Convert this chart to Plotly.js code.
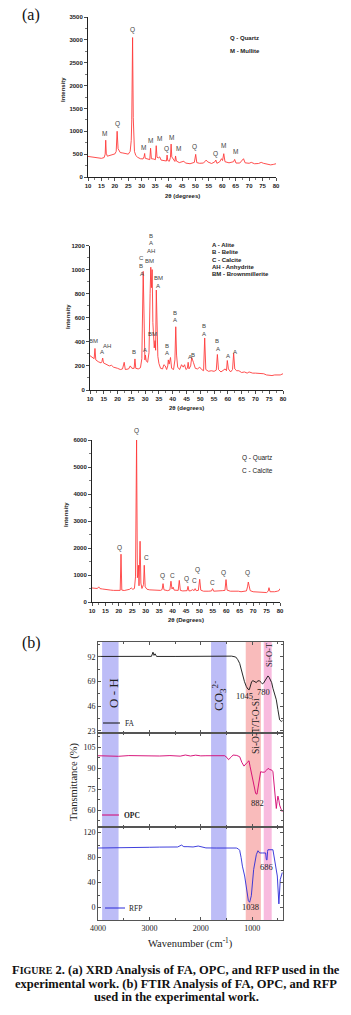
<!DOCTYPE html>
<html><head><meta charset="utf-8">
<script src="https://cdn.plot.ly/plotly-3.0.1.min.js"></script>
<style>html,body{margin:0;padding:0;background:#fff;}#chart{width:351px;height:1015px;}</style>
</head><body><div id="chart"></div>
<script>
// ---------- DATA ----------
// XRD of FA: [2theta, intensity]
const xrdFA = [[10,450],[11,440],[12,425],[13,415],[14,405],[15,408],[16,425],[16.4,500],[16.6,805],[16.8,520],[17.2,455],[18,470],[19,490],[20,505],[20.5,560],[20.85,1000],[21.2,620],[22,535],[23,525],[24,515],[25,500],[25.7,560],[26.1,800],[26.3,1250],[26.6,3050],[26.85,1300],[27.0,900],[27.3,560],[27.8,470],[28.5,430],[29.5,400],[30.5,395],[30.9,450],[31.1,515],[31.3,410],[32,395],[33.0,380],[33.3,630],[33.6,400],[34.3,395],[35.1,380],[35.4,685],[35.7,430],[36.3,420],[36.7,440],[37.2,370],[38.2,355],[39.2,350],[39.45,480],[39.7,360],[40.3,345],[40.7,430],[40.95,720],[41.2,440],[42.0,370],[42.35,340],[42.6,460],[42.9,350],[44,315],[45.7,345],[46.3,305],[48,290],[49.6,320],[50.1,495],[50.5,315],[51.5,300],[53,305],[54,370],[54.6,330],[56,295],[57.2,330],[57.6,370],[58,300],[59,330],[59.7,400],[60.1,360],[60.55,510],[61,335],[62.5,310],[64.2,335],[64.6,385],[65.1,305],[66.5,305],[67.9,400],[68.5,310],[70,300],[70.8,320],[72,290],[73.5,295],[74.5,320],[75.3,300],[76.5,290],[78,265],[79,275],[80,290]];
// XRD of OPC
const xrdOPC = [[10,285],[10.8,275],[11.5,260],[11.8,345],[12.1,250],[13,235],[14,225],[14.3,235],[14.6,265],[14.9,225],[16,210],[17,200],[17.8,205],[18.5,190],[20,180],[21,170],[21.8,175],[22.4,230],[22.8,170],[24,175],[24.6,200],[25.2,180],[26,180],[26.3,258],[26.6,180],[27.5,175],[28.3,185],[28.8,260],[29.3,985],[29.6,420],[29.9,250],[30.1,290],[30.4,240],[30.9,230],[31.4,310],[31.8,800],[32.05,1020],[32.3,850],[32.55,1000],[32.8,560],[33.0,420],[33.3,350],[33.6,410],[33.8,330],[34.05,830],[34.3,560],[34.6,280],[35,220],[35.6,180],[36.3,175],[36.8,210],[37.3,200],[37.8,170],[38.2,200],[38.4,250],[38.7,215],[39.2,270],[39.6,180],[40.3,170],[40.8,250],[41.1,525],[41.4,290],[41.8,190],[42.5,170],[43.2,210],[43.8,190],[44.3,210],[44.8,170],[45.3,180],[45.6,230],[45.9,175],[46.5,200],[46.9,270],[47.5,230],[48.2,180],[49,175],[49.8,190],[50.5,170],[51.2,160],[51.6,432],[52,170],[53,155],[54,160],[55,155],[55.8,165],[56.2,295],[56.6,170],[57.5,150],[58.5,165],[59,175],[59.5,160],[59.8,245],[60.2,175],[61,150],[61.7,170],[62.1,305],[62.5,175],[63.2,160],[64,160],[65,145],[66,150],[67,140],[67.7,150],[68.2,145],[69,140],[70,140],[71,138],[72,140],[73,135],[74,125],[75,120],[76,120],[77,125],[78,122],[79,125],[80,135]];
// XRD of RFP
const xrdRFP = [[10,520],[11,510],[12,500],[12.5,560],[13,495],[14,480],[15,460],[16,445],[17,440],[18,430],[19,425],[20,420],[20.5,430],[20.8,1770],[21.1,440],[22,425],[23,440],[24,470],[24.6,520],[25.2,470],[25.8,500],[26.2,930],[26.6,6030],[26.9,900],[27.1,1000],[27.3,1360],[27.5,600],[27.7,1400],[27.9,2250],[28.2,700],[28.6,500],[29.2,650],[29.45,1360],[29.8,560],[30.5,470],[31.5,450],[32.5,440],[33.5,430],[34.5,420],[35.5,430],[36.1,460],[36.45,680],[36.8,450],[37.5,430],[38.2,420],[39.0,450],[39.4,770],[39.8,480],[40.2,550],[40.6,440],[41.5,420],[42.1,430],[42.5,800],[42.9,430],[43.8,410],[45,400],[45.4,420],[45.75,580],[46.1,410],[46.8,420],[47.5,460],[48.0,420],[48.4,495],[48.8,420],[49.6,430],[50.1,840],[50.5,440],[51.5,400],[52.5,390],[53.5,400],[54.5,410],[54.9,495],[55.3,400],[56.5,400],[57.5,410],[58.5,420],[59.5,430],[59.9,830],[60.3,440],[61.5,400],[62.5,400],[63.5,410],[64,420],[64.5,400],[65.5,380],[66.5,390],[67.5,410],[67.9,560],[68.2,740],[68.5,600],[68.9,420],[70,380],[71,370],[72,360],[73,370],[74,350],[75,350],[75.6,400],[75.9,530],[76.3,380],[77,370],[78,380],[79,400],[79.6,420],[80,495]];

// XRD peak labels
const lab1Text = ['Q','M','Q','M','M','M','Q','M','M','Q','Q','M','M'];
const lab1X = [26.6,16.3,21.1,30.6,33.3,36.5,39.1,41.1,43.6,49.8,57.5,60.5,65.0];
const lab1Y = [3210,953,1150,640,793,844,619,866,633,648,509,691,568];
const lab2Text = ['BM','AH','A','B','A','C','B','A','B','A','AH','BM','BM','A','BM','B','A','B','A','A','B','B','A','B','A','A','A'];
const lab2X = [11.2,16.0,14.2,25.9,30.0,28.5,28.5,28.8,32.1,32.1,32.1,31.6,34.7,34.5,32.6,38.1,38.1,41.0,41.0,46.1,47.2,51.5,51.5,56.2,56.3,60.1,62.5];
const lab2Y = [410,366,313,313,335,1098,1029,963,1278,1220,1152,1075,928,867,465,368,307,643,584,271,294,535,465,410,341,285,313];
const lab3Text = ['Q','Q','C','Q','C','Q','C','Q','C','Q','Q'];
const lab3X = [26.5,20.3,30.2,36.3,39.9,45.1,48.3,49.4,54.9,59.1,68.0];
const lab3Y = [6340,2000,1630,980,980,840,780,1180,720,1090,1090];

const key1 = ['Q - Quartz','M - Mullite'];
const key2 = ['A - Alite','B - Belite','C - Calcite','AH - Anhydrite','BM - Brownmillerite'];
const key3 = ['Q - Quartz','C - Calcite'];

// FTIR: [wavenumber, transmittance %]
const ftirFA = [[4000,92.5],[3500,92.5],[3000,92.5],[2960,92.6],[2930,96.5],[2910,93.5],[2890,95],[2860,92.5],[2500,92.5],[2000,92.5],[1600,92.6],[1500,93.2],[1400,92.8],[1320,92],[1280,89.5],[1243,86],[1210,80],[1190,75.2],[1150,69],[1113,64.3],[1081,61.9],[1055,61.5],[1036,65.9],[1010,69],[985,69.9],[950,68.5],[919,68.1],[890,69.8],[854,69.6],[820,68],[800,66.9],[780,67.5],[757,69],[720,72],[693,74.3],[670,73],[641,70.6],[620,68],[596,62.8],[560,57],[530,52],[500,43],[466,33.3],[433,31.8],[410,32.5]];
const ftirOPC = [[4000,98.8],[3800,98.6],[3600,98.4],[3400,98.9],[3200,98.7],[3000,98.8],[2800,98.6],[2600,98.9],[2400,98.5],[2300,99.3],[2200,98.6],[2100,99.2],[2000,98.7],[1900,98.8],[1700,98.8],[1534,98.8],[1490,97.5],[1460,96.0],[1410,97.8],[1372,99.3],[1300,99],[1243,98.1],[1200,94],[1159,91.4],[1110,93.5],[1062,95.2],[1040,91],[1016,86.2],[971,79],[932,71.9],[906,71.4],[868,79],[835,87.4],[790,87],[757,87.2],[720,88.5],[690,89.8],[660,89],[620,88.6],[596,87.4],[575,80],[563,72],[545,66],[530,61.2],[515,66],[499,70],[480,67],[466,63.6],[440,61],[414,58.8]];
const ftirRFP = [[4000,95.3],[3500,95.3],[3200,95.5],[3000,96.5],[2800,96.8],[2600,96.5],[2450,97],[2375,100],[2330,97.5],[2250,97.5],[2150,97],[2050,98.5],[1980,97.5],[1900,95.5],[1700,95.3],[1500,95.3],[1307,95.3],[1270,94],[1243,91.6],[1215,80],[1190,66.3],[1146,50.5],[1113,29.4],[1074,10.9],[1049,8.4],[1016,18.9],[971,61],[919,84.7],[887,91],[854,87.4],[800,87.4],[738,87.4],[725,76.9],[712,76],[700,90],[693,92.6],[596,92.6],[570,80],[544,61],[511,50.5],[480,5.8],[453,45],[414,56]];

// FTIR band regions (cm-1)
const bandLo = [3600, 1500, 830, 620];
const bandHi = [3920, 1800, 1125, 775];
const bandColor = ['rgba(170,170,245,0.78)','rgba(170,170,245,0.78)','rgba(248,170,170,0.8)','rgba(246,170,215,0.8)'];

const peakText = ['1045','780','882','686','1038'];

// ---------- LAYOUT HELPERS ----------
const W = 351, H = 1015;
const px = v => v / W;
const py = v => 1 - v / H;
const SANS = 'Liberation Sans, Arial, sans-serif';
const SERIF = 'Liberation Serif, Times New Roman, serif';

const xs = a => a.map(p => p[0]);
const ys = a => a.map(p => p[1]);

const red = '#ff3b3b';
const traces = [
  {x: xs(xrdFA), y: ys(xrdFA), xaxis:'x', yaxis:'y', mode:'lines', line:{color:red, width:0.9}, name:'FA'},
  {x: xs(xrdOPC), y: ys(xrdOPC), xaxis:'x2', yaxis:'y2', mode:'lines', line:{color:red, width:0.9}, name:'OPC'},
  {x: xs(xrdRFP), y: ys(xrdRFP), xaxis:'x3', yaxis:'y3', mode:'lines', line:{color:red, width:0.9}, name:'RFP'},
  {x: xs(ftirFA), y: ys(ftirFA), xaxis:'x6', yaxis:'y6', mode:'lines', line:{color:'#111', width:0.9}, name:'FA'},
  {x: xs(ftirOPC), y: ys(ftirOPC), xaxis:'x5', yaxis:'y5', mode:'lines', line:{color:'#d4006e', width:0.9}, name:'OPC'},
  {x: xs(ftirRFP), y: ys(ftirRFP), xaxis:'x4', yaxis:'y4', mode:'lines', line:{color:'#2a2ad8', width:0.9}, name:'RFP'}
];

const xrdTickFont = {family:SANS, size:6, color:'#222', weight:'bold'};
function xrdX(domain, anchor){
  return {domain, anchor, range:[10,80], dtick:5, tick0:0, showline:true, linecolor:'#222', linewidth:1,
    ticks:'outside', ticklen:3, tickwidth:0.8, tickcolor:'#222', tickfont:xrdTickFont,
    showgrid:false, zeroline:false, minor:{dtick:2.5, ticks:'outside', ticklen:1.8, tickcolor:'#222', tickwidth:0.6}};
}
function xrdY(domain, anchor, range, dtick){
  return {domain, anchor, range, dtick, tick0:0, showline:true, linecolor:'#222', linewidth:1,
    ticks:'outside', ticklen:3, tickwidth:0.8, tickcolor:'#222', tickfont:xrdTickFont,
    showgrid:false, zeroline:false, minor:{dtick:dtick/2, ticks:'outside', ticklen:1.8, tickcolor:'#222', tickwidth:0.6}};
}
const ftX = [98, 283];
function ftirX(anchor, labels){
  return {domain:[px(ftX[0]), px(ftX[1])], anchor, range:[4000,400], dtick:1000, tick0:0,
    showline:true, mirror:'ticks', linecolor:'#555', linewidth:1, ticks:'inside', ticklen:3, tickcolor:'#555',
    showticklabels:labels, tickfont:{family:SERIF, size:8, color:'#222'}, showgrid:false, zeroline:false,
    minor:{dtick:500, ticks:'inside', ticklen:2, tickcolor:'#555'}};
}
function ftirY(domain, anchor, range, dtick){
  return {domain, anchor, range, dtick, tick0:0, showline:true, mirror:'ticks', linecolor:'#555', linewidth:1,
    ticks:'inside', ticklen:3, tickcolor:'#555', tickfont:{family:SERIF, size:8, color:'#222'},
    showgrid:false, zeroline:false, minor:{dtick:dtick/2, ticks:'inside', ticklen:2, tickcolor:'#555'}};
}

const annotations = [];
function ann(text, x, y, o){
  annotations.push(Object.assign({text, x:px(x), y:py(y), xref:'paper', yref:'paper', showarrow:false,
    xanchor:'center', yanchor:'middle', font:{family:SANS, size:6, color:'#222'}}, o||{}));
}
// data-anchored peak labels (raised beyond the top of the range with yshift)
function peakLabels(texts, X, Y, xr, yr, ymax, pxPerUnit, size){
  texts.forEach((t,i)=>{
    const over = Y[i] > ymax ? (Y[i]-ymax) : 0;
    annotations.push({text:t, x:X[i], y:Y[i]-over, xref:xr, yref:yr, yshift:over*pxPerUnit, showarrow:false,
      xanchor:'center', yanchor:'middle', font:{family:SANS, size:size, color:'#444'}});
  });
}

// Panel geometry (px)
const P1 = {x:[88,276], y:[17,177]};
const P2 = {x:[90,283], y:[245.5,390]};
const P3 = {x:[92,280], y:[440,602]};

peakLabels(lab1Text, lab1X, lab1Y, 'x', 'y', 3500, (P1.y[1]-P1.y[0])/3500, 6.5);
peakLabels(lab2Text, lab2X, lab2Y, 'x2', 'y2', 1200, (P2.y[1]-P2.y[0])/1200, 6);
peakLabels(lab3Text, lab3X, lab3Y, 'x3', 'y3', 6000, (P3.y[1]-P3.y[0])/6000, 6.5);

// Keys
key1.forEach((t,i)=>ann(t, 228, 38 + i*13, {xanchor:'left', font:{family:SANS, size:6, color:'#222', weight:'bold'}}));
key2.forEach((t,i)=>ann(t, 210, 245 + i*7.3, {xanchor:'left', font:{family:SANS, size:6, color:'#222', weight:'bold'}}));
key3.forEach((t,i)=>ann(t, 240, 458 + i*13, {xanchor:'left', font:{family:SANS, size:6.5, color:'#222'}}));

// XRD axis titles
const tF = {family:SANS, size:6, color:'#222', weight:'bold'};
ann('2θ (degrees)', 182, 196, {font:tF});
ann('Intensity', 63, 90, {textangle:-90, font:tF});
ann('2θ (degrees)', 187, 408, {font:tF});
ann('Intensity', 68, 317, {textangle:-90, font:tF});
ann('2θ (Degrees)', 186, 620, {font:tF});
ann('Intensity', 66, 515, {textangle:-90, font:tF});

// Panel letters
ann('(a)', 31, 15, {font:{family:SERIF, size:16, color:'#111'}});
ann('(b)', 31, 643, {font:{family:SERIF, size:16, color:'#111'}});

// FTIR texts
const sF = (s,o)=>Object.assign({family:SERIF, size:s, color:'#222'}, o||{});
ann('O - H', 113, 693, {textangle:-90, font:sF(13)});
ann('CO<sub>3</sub><sup>2-</sup>', 219, 696, {textangle:-90, font:sF(13)});
ann('Si-O-T/T-O-Si', 256, 726, {textangle:-90, font:sF(9.5)});
ann('Si-O-T', 269, 655, {textangle:-90, font:sF(8.5)});
const peakPos = [[244,696],[263,692],[257,803],[266,867],[250,907]];
peakText.forEach((t,i)=>ann(t, peakPos[i][0], peakPos[i][1], {font:sF(8.5)}));
ann('FA', 123, 723, {xanchor:'left', font:sF(7.5)});
ann('OPC', 122, 815, {xanchor:'left', font:sF(7.5, {weight:'bold'})});
ann('RFP', 127, 908, {xanchor:'left', font:sF(7.5)});
ann('Transmittance (%)', 74, 782, {textangle:-90, font:sF(10.5)});
ann('Wavenumber (cm<sup>-1</sup>)', 190, 943, {font:sF(10.5)});

// Caption
const cF = {family:SERIF, size:12.5, color:'#111', weight:'bold'};
ann('F<span style="font-size:10px">IGURE</span> 2. (a) XRD Analysis of FA, OPC, and RFP used in the', 176, 970, {font:cF});
ann('experimental work. (b) FTIR Analysis of FA, OPC, and RFP', 176, 983.5, {font:cF});
ann('used in the experimental work.', 176, 997, {font:cF});

// Shapes: bands + legend lines
const shapes = [];
bandLo.forEach((lo,i)=>{
  shapes.push({type:'rect', xref:'x4', yref:'paper', x0:bandHi[i], x1:lo, y0:py(920), y1:py(642),
    fillcolor:bandColor[i], line:{width:0}, layer:'below'});
});
shapes.push({type:'line', xref:'paper', yref:'paper', x0:px(103), x1:px(120), y0:py(723), y1:py(723), line:{color:'#111', width:1}});
shapes.push({type:'line', xref:'paper', yref:'paper', x0:px(102), x1:px(119), y0:py(815), y1:py(815), line:{color:'#d4006e', width:1}});
shapes.push({type:'line', xref:'paper', yref:'paper', x0:px(105), x1:px(125), y0:py(908), y1:py(908), line:{color:'#2a2ad8', width:1}});

const layout = {
  width:W, height:H, margin:{l:0,r:0,t:0,b:0}, paper_bgcolor:'#fff', plot_bgcolor:'rgba(0,0,0,0)',
  showlegend:false,
  xaxis: xrdX([px(P1.x[0]), px(P1.x[1])], 'y'),
  yaxis: xrdY([py(P1.y[1]), py(P1.y[0])], 'x', [0,3500], 500),
  xaxis2: xrdX([px(P2.x[0]), px(P2.x[1])], 'y2'),
  yaxis2: xrdY([py(P2.y[1]), py(P2.y[0])], 'x2', [0,1200], 200),
  xaxis3: xrdX([px(P3.x[0]), px(P3.x[1])], 'y3'),
  yaxis3: xrdY([py(P3.y[1]), py(P3.y[0])], 'x3', [0,6000], 1000),
  xaxis4: ftirX('y4', true),
  yaxis4: ftirY([py(920), py(827)], 'x4', [-20,129], 40),
  xaxis5: ftirX('y5', false),
  yaxis5: ftirY([py(827), py(733)], 'x5', [48,115], 15),
  xaxis6: ftirX('y6', false),
  yaxis6: ftirY([py(733), py(642)], 'x6', [21,106], 23),
  annotations, shapes
};

Plotly.newPlot('chart', traces, layout, {displayModeBar:false, staticPlot:true});
</script></body></html>
